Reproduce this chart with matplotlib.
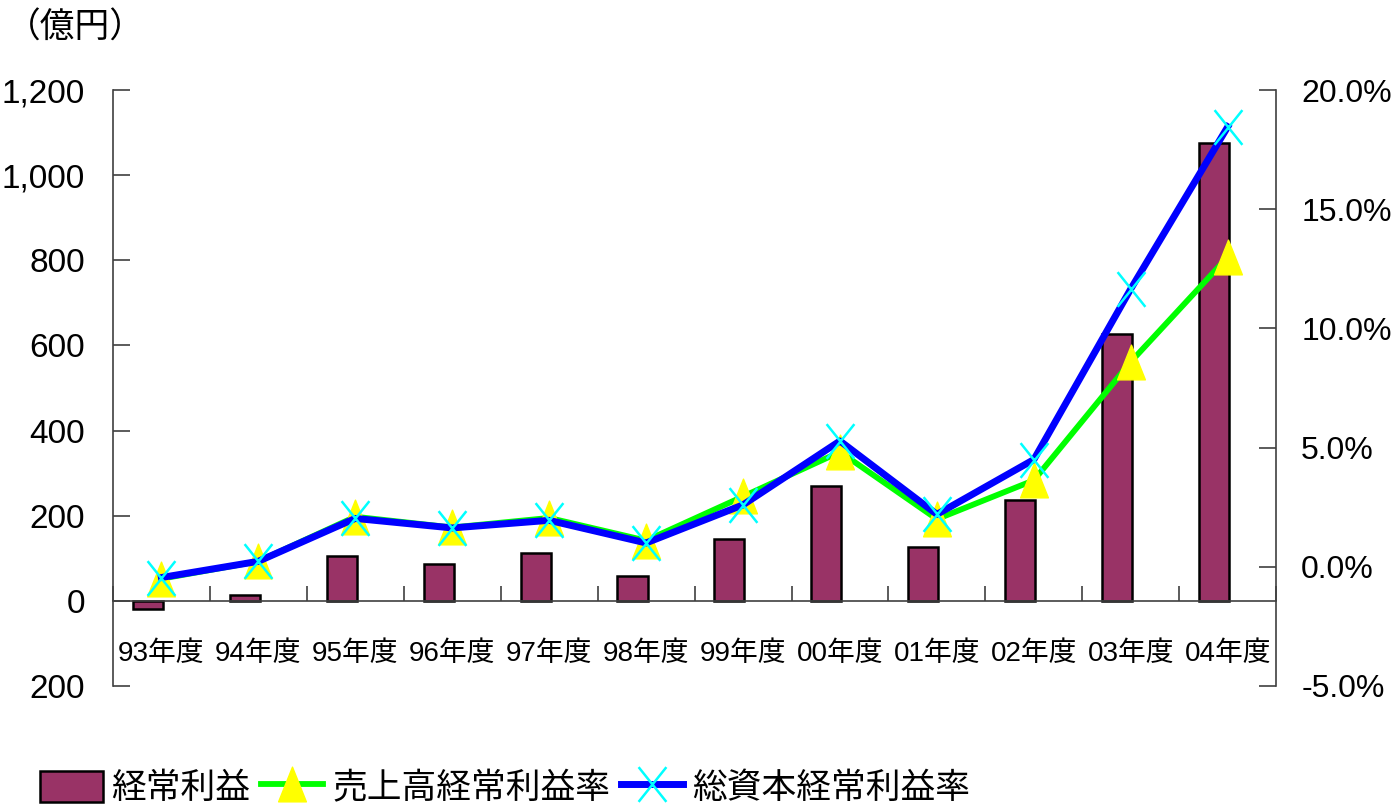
import matplotlib
matplotlib.use('Agg')
import matplotlib.pyplot as plt
import matplotlib.ticker as mticker
from matplotlib.path import Path
import numpy as np

plt.rcParams['font.family'] = ['Liberation Sans', 'Noto Sans CJK JP', 'DejaVu Sans']

# data
years = ['93年度', '94年度', '95年度', '96年度', '97年度', '98年度',
         '99年度', '00年度', '01年度', '02年度', '03年度', '04年度']
profit = [-19, 14, 105, 87, 112, 58, 145, 270, 127, 237, 628, 1076]          # 経常利益 (億円)
sales_ratio = [-0.5, 0.23, 2.1, 1.65, 2.05, 1.1, 2.95, 4.82, 2.0, 3.63, 8.6, 13.0]    # 売上高経常利益率 (%)
asset_ratio = [-0.45, 0.23, 2.03, 1.63, 1.95, 1.0, 2.6, 5.28, 2.2, 4.5, 11.66, 18.46]  # 総資本経常利益率 (%)

left_ticks = [-200, 0, 200, 400, 600, 800, 1000, 1200]
left_labels = ['200', '0', '200', '400', '600', '800', '1,000', '1,200']
right_ticks = [-5, 0, 5, 10, 15, 20]
right_labels = ['-5.0%', '0.0%', '5.0%', '10.0%', '15.0%', '20.0%']

# tall triangle / tall cross markers like the Excel ones
tri = Path([(0, 1), (-0.8, -1), (0.8, -1), (0, 1)],
           [Path.MOVETO, Path.LINETO, Path.LINETO, Path.CLOSEPOLY])
cross = Path([(-0.8, -1), (0.8, 1), (-0.8, 1), (0.8, -1)],
             [Path.MOVETO, Path.LINETO, Path.MOVETO, Path.LINETO])

fig = plt.figure(figsize=(13.94, 8.08), dpi=100)
ax = fig.add_axes([0.081, 0.151, 0.8345, 0.7375])
ax2 = ax.twinx()

x = np.arange(len(years))

bars = ax.bar(x - 0.14, profit, width=0.31, color='#993366', edgecolor='black',
              linewidth=1.8, zorder=2, label='経常利益')

ax.set_xlim(-0.5, len(years) - 0.5)
ax.set_ylim(-200, 1200)
ax.set_yticks(left_ticks)
ax.yaxis.set_major_formatter(mticker.FixedFormatter(left_labels))
ax.tick_params(axis='y', direction='in', length=12, width=1.2, color='#404040',
               labelsize=24, pad=20)

# category axis sits on the zero line
ax.spines['bottom'].set_position(('data', 0))
ax.spines['bottom'].set_color('#404040')
ax.spines['bottom'].set_linewidth(1.2)
ax.spines['left'].set_color('#404040')
ax.spines['left'].set_linewidth(1.2)
ax.spines['top'].set_visible(False)
ax.spines['right'].set_visible(False)
ax.set_xticks(np.arange(len(years) + 1) - 0.5)
ax.set_xticklabels([])
ax.set_xticks(x, minor=True)
ax.set_xticklabels(years, minor=True)
ax.tick_params(axis='x', which='major', direction='in', length=11, width=1.2, color='#404040')
ax.tick_params(axis='x', which='minor', length=0, labelsize=20, pad=29)

l1, = ax2.plot(x, sales_ratio, color='#00ff00', linewidth=4.2, marker=tri,
               markersize=25, markerfacecolor='#ffff00', markeredgecolor='#ffff00',
               zorder=3, label='売上高経常利益率')
l2, = ax2.plot(x, asset_ratio, color='#0000ff', linewidth=5, marker=cross,
               markersize=25, markeredgecolor='#00ffff', markeredgewidth=1.8,
               zorder=4, label='総資本経常利益率')

ax2.set_ylim(-5, 20)
ax2.set_yticks(right_ticks)
ax2.yaxis.set_major_formatter(mticker.FixedFormatter(right_labels))
ax2.tick_params(axis='y', direction='in', length=12, width=1.2, color='#404040',
                labelsize=23, pad=18)
ax2.spines['right'].set_color('#404040')
ax2.spines['right'].set_linewidth(1.2)
for s in ['top', 'bottom', 'left']:
    ax2.spines[s].set_visible(False)

fig.text(0.004, 0.965, '（億円）', fontsize=25, ha='left', va='center')

fig.legend(handles=[bars, l1, l2], loc='lower left', bbox_to_anchor=(0.014, -0.022),
           ncol=3, frameon=False, fontsize=25, handlelength=1.8, handleheight=1.0,
           handletextpad=0.25, columnspacing=0.3, borderaxespad=0.2)

fig.savefig('out.png', dpi=100)
